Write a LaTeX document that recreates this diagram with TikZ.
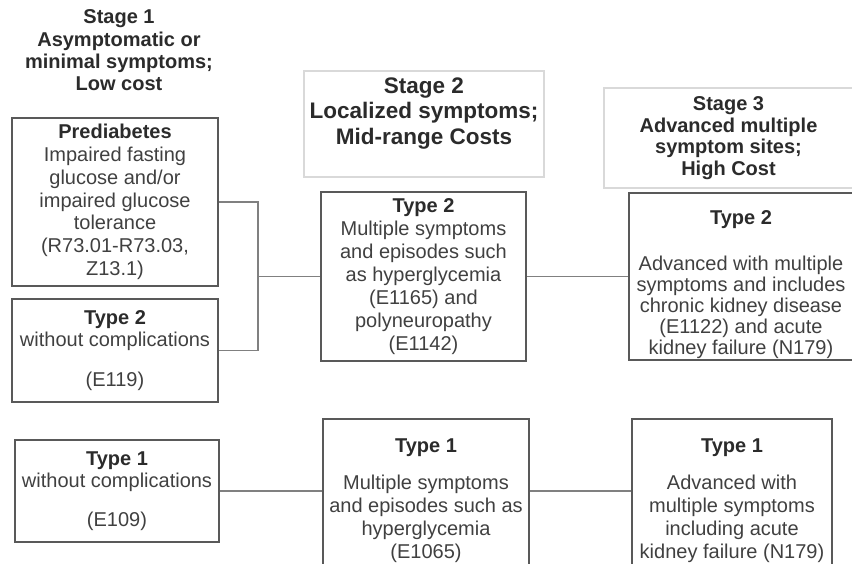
\documentclass[tikz,border=0pt]{standalone}
\usepackage{fontspec}
\setmainfont{Liberation Sans}

\definecolor{boxc}{HTML}{595959}
\definecolor{hboxc}{HTML}{D9D9D9}
\definecolor{linec}{HTML}{808080}
\definecolor{txtc}{HTML}{404040}
\definecolor{ttlc}{HTML}{2B2B2B}
\newcommand{\kind}[1]{\textcolor{ttlc}{\bfseries #1}}

\begin{document}
\begin{tikzpicture}[x=1pt,y=-1pt,
      every node/.style={align=center,text=txtc,inner sep=0pt,
        font=\fontsize{20}{22.5}\selectfont},
      stagebox/.style={draw=boxc,line width=1.6pt},
      headbox/.style={draw=hboxc,line width=1.5pt},
      head/.style={text=ttlc,font=\fontsize{20}{22.3}\selectfont\bfseries},
      link/.style={draw=linec,line width=1.3pt}]
      \useasboundingbox (0,0) rectangle (852,563);

      \node[head] (s1) at (119,50.5)
        {Stage 1\\Asymptomatic or\\minimal symptoms;\\Low cost};
      \node[headbox,head,font=\fontsize{22.5}{25.5}\selectfont\bfseries,
        minimum width=240,minimum height=106] (s2) at (424,124)
        {Stage 2\\Localized symptoms;\\Mid-range Costs\rule[-26pt]{0pt}{26pt}};
      \node[headbox,head,font=\fontsize{20}{21.7}\selectfont\bfseries,
        minimum width=249,minimum height=100] (s3) at (728.5,138)
        {Stage 3\\Advanced multiple\\symptom sites;\\High Cost};

      \node[stagebox,font=\fontsize{20}{22.8}\selectfont,
        minimum width=206,minimum height=168] (pre) at (115,202)
        {\kind{Prediabetes}\\Impaired fasting\\glucose and/or\\impaired glucose\\tolerance\\(R73.01-R73.03,\\Z13.1)};
      \node[stagebox,minimum width=206,minimum height=103] (t2a) at (115,350.5)
        {\kind{Type 2}\\without complications\\[17.5pt](E119)};
      \node[stagebox,minimum width=204,minimum height=102] (t1a) at (117,491)
        {\kind{Type 1}\\without complications\\[16.5pt](E109)};

      \node[stagebox,font=\fontsize{20}{23}\selectfont,
        minimum width=205,minimum height=169] (t2b) at (423.5,276.5)
        {\kind{Type 2}\\Multiple symptoms\\and episodes such\\as hyperglycemia\\(E1165) and\\polyneuropathy\\(E1142)};
      \node[stagebox,font=\fontsize{20}{23}\selectfont,
        minimum width=206,minimum height=163] (t1b) at (426,500.5)
        {\kind{Type 1}\\[14pt]Multiple symptoms\\and episodes such as\\hyperglycemia\\(E1065)};

      \node[stagebox,font=\fontsize{20}{21}\selectfont,
        minimum width=224,minimum height=167] (t2c) at (741,276.5)
        {\rule{0pt}{31pt}\kind{Type 2}\\[25pt]Advanced with multiple\\symptoms and includes\\chronic kidney disease\\(E1122) and acute\\kidney failure (N179)};
      \node[stagebox,font=\fontsize{20}{23}\selectfont,
        minimum width=200,minimum height=163] (t1c) at (732,500.5)
        {\kind{Type 1}\\[14pt]Advanced with\\multiple symptoms\\including acute\\kidney failure (N179)};

      \coordinate (j) at (258,276.5);
      \draw[link] (pre.east) -| (j) |- (t2a.east);
      \draw[link] (j) -- (t2b.west);
      \draw[link] (t2b) -- (t2c);
      \draw[link] (t1a.east) -- (t1a.east -| t1b.west);
      \draw[link] (t1a.east -| t1b.east) -- (t1a.east -| t1c.west);
\end{tikzpicture}
\end{document}
